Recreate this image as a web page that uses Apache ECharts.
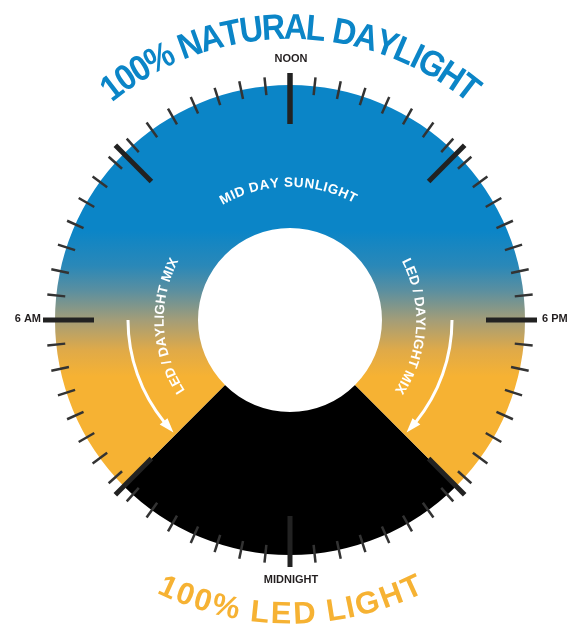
<!DOCTYPE html>
<html><head><meta charset="utf-8">
<script src="https://cdn.jsdelivr.net/npm/echarts@6/dist/echarts.min.js"></script>
<style>html,body{margin:0;padding:0;background:#fff}#c{width:573px;height:630px}</style>
</head><body><div id="c"></div>
<script>
// ---------- data ----------
const periods = ['100% LED LIGHT', 'NATURAL / MIX'];
const periodHours = [6, 18];
const periodStartHour = 21;          // LED-only period starts at 9 PM
const clockMin = 0, clockMax = 24;
const minorTickCount = 60;
const majorTickCount = 8;
const hourLabels = ['NOON', '6 PM', 'MIDNIGHT', '6 AM'];
const hourLabelHours = [12, 18, 0, 6];
const titleTop = '100% NATURAL DAYLIGHT';
const titleBottom = '100% LED LIGHT';
const innerTop = 'MID DAY SUNLIGHT';
const mixText = 'LED / DAYLIGHT MIX';

// ---------- geometry / style ----------
const CX = 290, CY = 320, R_IN = 92, R_OUT = 235;
const BLUE = '#0b85c7', ORANGE = '#f6b233', INK = '#231f20';
const FONT = '"Liberation Sans", Arial, sans-serif';

const rad = d => d * Math.PI / 180;
const hourToClock = h => (((h - 12) / 24) * 360 + 360) % 360;   // deg clockwise from top
const polar = (r, deg) => [CX + r * Math.sin(rad(deg)), CY - r * Math.cos(rad(deg))];

const mctx = document.createElement('canvas').getContext('2d');
function arcText(text, size, r, startDeg, endDeg, color, inward, sx) {
  mctx.font = 'bold ' + size + 'px ' + FONT;
  const chars = text.split('');
  const w = chars.map(c => mctx.measureText(c).width);
  const s = [0];
  for (let i = 1; i < chars.length; i++) s.push(s[i - 1] + (w[i - 1] + w[i]) / 2);
  const total = s[s.length - 1];
  return chars.map((c, i) => {
    const th = startDeg + (endDeg - startDeg) * s[i] / total;
    const p = polar(r, th);
    const rot = inward ? th - 180 : th;
    return {
      type: 'text', x: p[0], y: p[1], rotation: -rad(rot), scaleX: sx || 1, z: 100, silent: true,
      style: { text: c, font: 'bold ' + size + 'px ' + FONT, fill: color,
               align: 'center', verticalAlign: 'middle', textAlign: 'center', textVerticalAlign: 'middle' }
    };
  });
}

const graphics = [];
graphics.push(...arcText(titleTop, 36, 291, -37.5, 37.5, BLUE, false, 0.9));
graphics.push(...arcText(titleBottom, 31, 295, 204.5, 155.5, ORANGE, true, 1));
graphics.push(...arcText(innerTop, 13.5, 137, -28, 27, '#ffffff', false, 1));
graphics.push(...arcText(mixText, 13.5, 130, 64, 122, '#ffffff', false, 1));
graphics.push(...arcText(mixText, 13.5, 130, 238, 296, '#ffffff', false, 1));

// hour labels
const labelPos = {
  12: { r: 260, align: 'center', v: 'middle' },
  18: { r: 252, align: 'left', v: 'middle' },
  0:  { r: 261, align: 'center', v: 'middle' },
  6:  { r: 249, align: 'right', v: 'middle' }
};
hourLabels.forEach((t, i) => {
  const h = hourLabelHours[i], lp = labelPos[h];
  const p = polar(lp.r, hourToClock(h));
  graphics.push({ type: 'text', x: p[0] + (h === 12 || h === 0 ? 1 : 0), y: p[1] - 1, z: 100, silent: true,
    style: { text: t, font: 'bold 11px ' + FONT, fill: INK, align: lp.align, verticalAlign: lp.v,
             textAlign: lp.align, textVerticalAlign: lp.v } });
});

// curved arrows
function arrow(fromDeg, toDeg) {
  const r = 162, dir = Math.sign(toDeg - fromDeg), headLen = 4.8, headHalf = 5;
  const baseDeg = toDeg - dir * headLen;
  const a0 = rad(Math.min(fromDeg, baseDeg) - 90), a1 = rad(Math.max(fromDeg, baseDeg) - 90);
  graphics.push({ type: 'arc', z: 100, silent: true,
    shape: { cx: CX, cy: CY, r: r, startAngle: a0, endAngle: a1, clockwise: true },
    style: { stroke: '#ffffff', lineWidth: 3, fill: null } });
  graphics.push({ type: 'polygon', z: 100, silent: true,
    shape: { points: [polar(r, toDeg), polar(r + headHalf, baseDeg - dir * 0.5), polar(r - headHalf, baseDeg - dir * 0.5)] },
    style: { fill: '#ffffff' } });
}
arrow(90, 134);
arrow(270, 226);

const dayGradient = new echarts.graphic.LinearGradient(0, CY - R_OUT, 0, CY + R_OUT, [
  { offset: 0, color: BLUE },
  { offset: 0.31, color: BLUE },
  { offset: 0.385, color: '#2a88b8' },
  { offset: 0.437, color: '#5a8fa0' },
  { offset: 0.5, color: '#a39d78' },
  { offset: 0.565, color: '#e0aa48' },
  { offset: 0.62, color: ORANGE },
  { offset: 1, color: ORANGE }
], true);

const chart = echarts.init(document.getElementById('c'), null, { renderer: 'canvas' });
const gaugeBase = {
  type: 'gauge', center: [CX, CY], startAngle: 90, endAngle: -270, min: clockMin, max: clockMax,
  axisLine: { show: false, lineStyle: { width: 0 } }, axisTick: { show: false }, axisLabel: { show: false },
  pointer: { show: false }, anchor: { show: false }, progress: { show: false },
  detail: { show: false }, title: { show: false }, silent: true, animation: false,
  data: [{ value: 0 }]
};
chart.setOption({
  animation: false,
  backgroundColor: '#ffffff',
  series: [
    {
      type: 'pie', center: [CX, CY], radius: [R_IN, R_OUT],
      startAngle: (90 - hourToClock(periodStartHour) + 360) % 360, clockwise: true,
      label: { show: false }, labelLine: { show: false }, silent: true, z: 1,
      emphasis: { disabled: true },
      data: periods.map((n, i) => ({ name: n, value: periodHours[i],
        itemStyle: { color: i === 0 ? '#000000' : dayGradient } }))
    },
    Object.assign({}, gaugeBase, { radius: 244, splitNumber: minorTickCount, z: 3,
      splitLine: { show: true, length: 18, distance: 0, lineStyle: { color: '#333333', width: 2.5 } } }),
    Object.assign({}, gaugeBase, { radius: 247, splitNumber: majorTickCount, z: 4,
      splitLine: { show: true, length: 51, distance: 0, lineStyle: { color: '#222222', width: 5 } } })
  ],
  graphic: { elements: graphics }
});
</script></body></html>
